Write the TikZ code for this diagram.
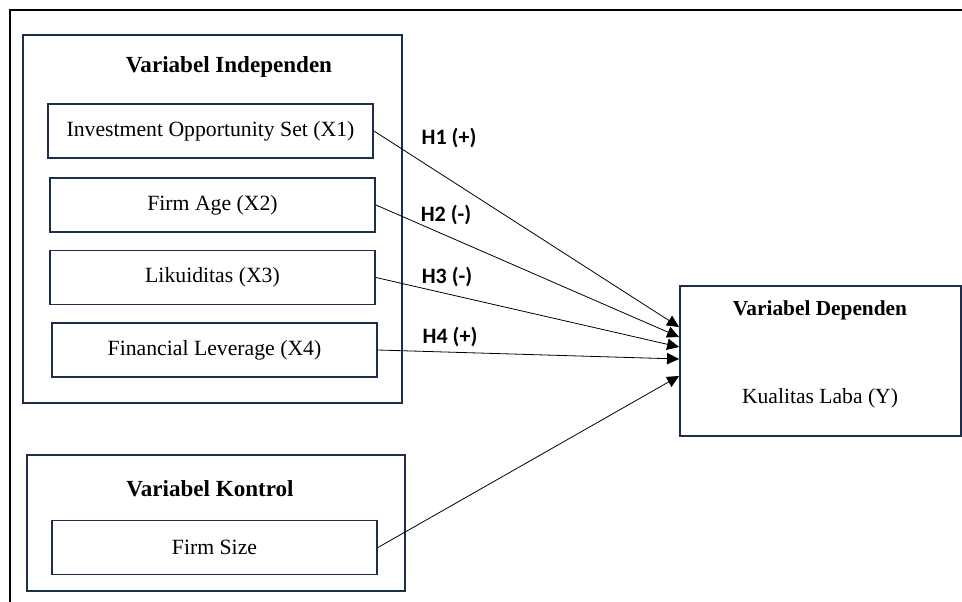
\documentclass[tikz,border=0pt]{standalone}
\usepackage{fontspec}
\setmainfont{Liberation Serif}
\newfontfamily\hypfont{Carlito}
\usetikzlibrary{arrows.meta,positioning}
\definecolor{navy}{HTML}{1F2D4D}

\begin{document}
\begin{tikzpicture}[x=0.75pt,y=-0.75pt,>={Triangle[length=9pt,width=8.5pt]},
varbox/.style={
draw=navy,
line width=1.4pt,
minimum width=243.75pt,
minimum height=40.5pt,
inner sep=0pt,
font=\fontsize{16.3}{19}\selectfont,
},
group/.style={
draw=navy,
line width=1.4pt,
inner sep=0pt,
},
grouptitle/.style={font=\fontsize{17.3}{20}\selectfont\bfseries},
hyp/.style={font=\fontsize{16.5}{19}\selectfont\hypfont\bfseries},
link/.style={->,line width=0.6pt}
]
\useasboundingbox (0,0) rectangle (962,602);
\draw[line width=1.2pt] (10,602) -- (10,10) -- (962,10);

\node [group,minimum width=284.25pt,minimum height=276pt] (indep) at (212.5,219) {};
\node [grouptitle] (indepTitle) at (229,67) {Variabel Independen};
\node [varbox] (x1) at (210.5,131) {Investment Opportunity Set (X1)};
\node [varbox] (x2) at (212.5,205) {Firm Age (X2)};
\node [varbox] (x3) at (212.5,277.5) {Likuiditas (X3)};
\node [varbox] (x4) at (214.5,350) {Financial Leverage (X4)};

\node [group,minimum width=283.5pt,minimum height=102pt] (kontrol) at (216,523) {};
\node [grouptitle] (kontrolTitle) at (210,489) {Variabel Kontrol};
\node [varbox] (size) at (214.5,547.5) {Firm Size};

\node [group,minimum width=210.75pt,minimum height=112.5pt] (dep) at (820.5,361) {};
\node [grouptitle,font=\fontsize{16}{19}\selectfont\bfseries] (depTitle) at (820,310) {Variabel Dependen};
\node [font=\fontsize{16.2}{19}\selectfont] (laba) at (820,398) {Kualitas Laba (Y)};

\foreach \src/\dy/\lab/\lx/\ly in {%
		x1/25.5/H1 (+)/449/138,
		x2/18/H2 (-)/446/215,
		x3/10.5/H3 (-)/447/277,
		x4/1.5/H4 (+)/450/337}
		{
		\draw [link] (\src.east) -- ([yshift=\dy pt]dep.west);
		\node [hyp] (hyp-\src) at (\lx,\ly) {\lab};
		}
\draw [link] (size.east) -- ([yshift=-11.25pt]dep.west);
\end{tikzpicture}
\end{document}
